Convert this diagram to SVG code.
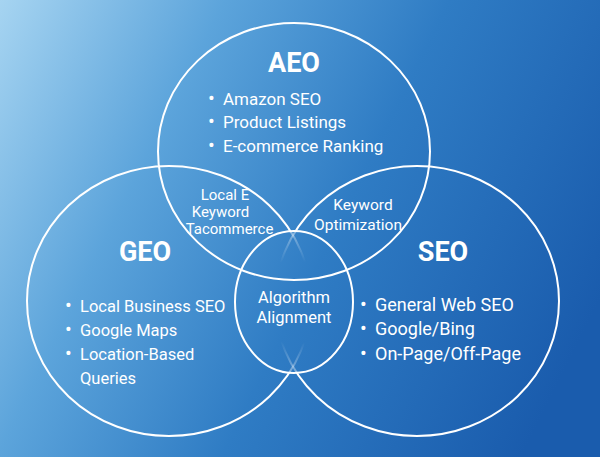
<svg xmlns="http://www.w3.org/2000/svg" width="600" height="457" viewBox="0 0 600 457">
  <defs>
    <linearGradient id="bg" gradientUnits="userSpaceOnUse" x1="0" y1="0" x2="600" y2="300">
      <stop offset="0" stop-color="#a6d4f1"/>
      <stop offset="0.3" stop-color="#5ca4db"/>
      <stop offset="0.6" stop-color="#2f7cc4"/>
      <stop offset="1" stop-color="#1a5cad"/>
    </linearGradient>
    <radialGradient id="fadeGrad" cx="0.5" cy="0.5" r="0.5">
      <stop offset="0" stop-color="#000"/>
      <stop offset="0.6" stop-color="#000"/>
      <stop offset="1" stop-color="#666"/>
    </radialGradient>
    <mask id="fade" maskUnits="userSpaceOnUse" x="0" y="0" width="600" height="457">
      <rect width="600" height="457" fill="#fff"/>
      <ellipse cx="294" cy="302" rx="58" ry="70" fill="url(#fadeGrad)"/>
    </mask>
    <style>
      .ring { fill: none; stroke: #ffffff; stroke-width: 2; }
      .title { font-family: Roboto, "Liberation Sans", sans-serif; font-weight: 700; font-size: 27px; fill: #ffffff; text-anchor: middle; }
      .item { font-family: Roboto, "Liberation Sans", sans-serif; fill: #ffffff; }
      .aeo-items { font-size: 17px; }
      .geo-items { font-size: 16.5px; }
      .seo-items { font-size: 18px; }
      .dot { font-size: 20px; }
      .mid { font-family: Roboto, "Liberation Sans", sans-serif; fill: #ffffff; text-anchor: middle; }
      .mid-small { font-size: 15px; }
      .mid-std { font-size: 15.5px; }
      .mid-big { font-size: 16.5px; }
    </style>
  </defs>

  <rect id="background" width="600" height="457" fill="url(#bg)"/>

  <g id="connectors"></g>

  <g id="node-geo">
    <ellipse class="ring" cx="169" cy="301" rx="142" ry="135" mask="url(#fade)"/>
    <text class="title" x="145" y="261">GEO</text>
    <g class="item geo-items">
      <text y="312"><tspan class="dot" x="65">•</tspan><tspan x="80">Local Business SEO</tspan></text>
      <text y="336"><tspan class="dot" x="65">•</tspan><tspan x="80">Google Maps</tspan></text>
      <text y="360"><tspan class="dot" x="65">•</tspan><tspan x="80">Location-Based</tspan></text>
      <text x="80" y="384">Queries</text>
    </g>
  </g>

  <g id="node-seo">
    <ellipse class="ring" cx="417" cy="301" rx="142" ry="135" mask="url(#fade)"/>
    <text class="title" x="443" y="261">SEO</text>
    <g class="item seo-items">
      <text y="311"><tspan class="dot" x="360">•</tspan><tspan x="375">General Web SEO</tspan></text>
      <text y="335"><tspan class="dot" x="360">•</tspan><tspan x="375">Google/Bing</tspan></text>
      <text y="360"><tspan class="dot" x="360">•</tspan><tspan x="375">On-Page/Off-Page</tspan></text>
    </g>
  </g>

  <g id="node-aeo">
    <ellipse class="ring" cx="294" cy="151.5" rx="136" ry="128.5"/>
    <text class="title" x="294" y="72">AEO</text>
    <g class="item aeo-items">
      <text y="104.5"><tspan class="dot" x="208">•</tspan><tspan x="223">Amazon SEO</tspan></text>
      <text y="128"><tspan class="dot" x="208">•</tspan><tspan x="223">Product Listings</tspan></text>
      <text y="152"><tspan class="dot" x="208">•</tspan><tspan x="223">E-commerce Ranking</tspan></text>
    </g>
  </g>

  <g id="node-aeo-geo">
    <text class="mid mid-small" x="225" y="200">Local E</text>
    <text class="mid mid-small" x="220.5" y="217">Keyword</text>
    <text class="mid mid-small" x="229.5" y="234">Tacommerce</text>
  </g>

  <g id="node-aeo-seo">
    <text class="mid mid-std" x="363" y="210">Keyword</text>
    <text class="mid mid-std" x="358" y="230">Optimization</text>
  </g>

  <g id="node-center">
    <ellipse class="ring" cx="294" cy="302" rx="59" ry="71"/>
    <text class="mid mid-big" x="294" y="303">Algorithm</text>
    <text class="mid mid-big" x="294" y="323">Alignment</text>
  </g>
</svg>
